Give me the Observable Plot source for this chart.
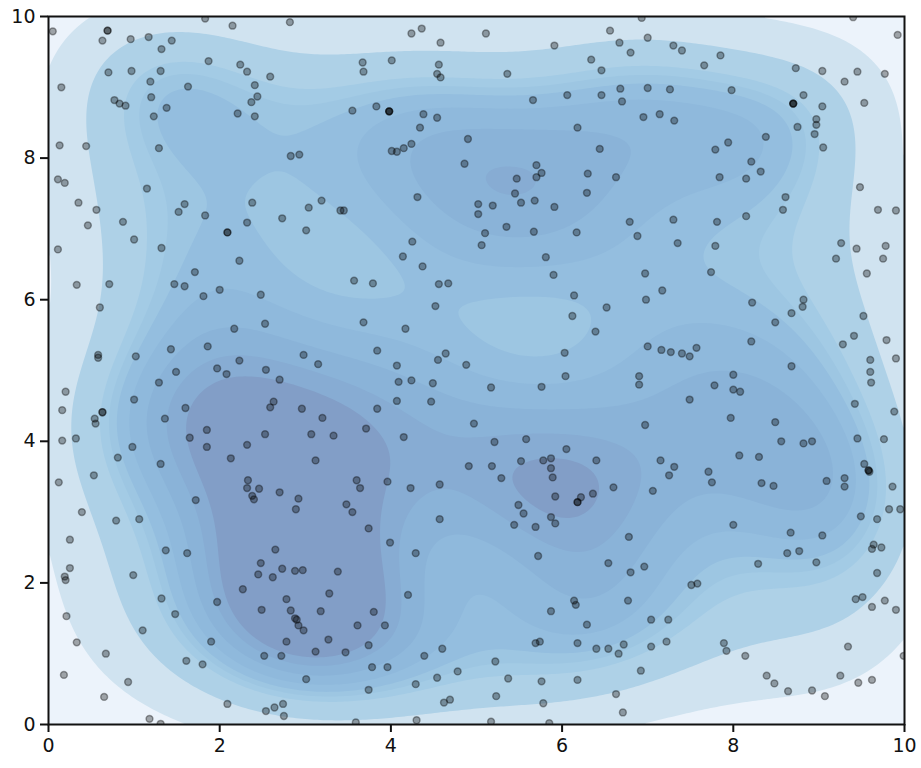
<!DOCTYPE html>
<html><head><meta charset="utf-8">
<style>html,body{margin:0;padding:0;background:#fff}svg{display:block}</style>
<script src="https://cdn.jsdelivr.net/npm/d3@7"></script>
<script src="https://cdn.jsdelivr.net/npm/@observablehq/plot@0.6"></script>
</head><body><div id="chart"></div>
<script>
const xs=[.05,.69,.69,.63,.96,1.17,1.44,1.32,1.83,2.15,2.82,.70,.97,1.31,1.19,1.87,2.24,2.32,2.59,2.41,2.44,2.37,2.21,2.41,.15,1.63,1.20,.77,.83,.90,1.38,1.23,.13,.44,1.29,2.83,2.93,.11,.19,1.15,.35,.56,1.59,1.52,1.83,2.38,3.04,3.19,2.73,2.32,3.41,.46,.87,2.09,2.09,3.01,1.0,.11,1.32,2.23,
4.24,4.36,4.58,5.11,5.91,6.56,6.67,6.80,3.67,3.68,4.01,4.56,4.54,4.58,5.36,6.34,6.46,6.68,6.46,6.70,6.06,5.66,3.55,3.83,3.98,3.98,3.98,4.38,4.54,4.34,6.18,4.90,6.44,4.24,4.15,4.07,4.01,4.86,5.70,5.76,5.70,5.47,6.30,6.63,5.45,6.29,5.68,5.52,5.02,5.19,5.91,5.02,4.31,3.45,6.79,5.35,5.67,6.17,5.10,5.06,4.25,4.14,5.81,
6.93,9.40,9.92,7.00,7.30,7.40,7.85,7.66,8.73,9.04,9.30,9.45,9.77,8.82,8.70,8.70,8.70,9.04,9.53,7.00,7.26,7.98,8.97,8.97,8.95,8.75,9.05,6.95,7.14,7.31,8.38,7.94,7.79,8.21,8.32,7.84,8.15,9.48,8.61,8.58,9.69,9.90,8.15,7.30,7.81,6.88,7.35,7.79,9.26,9.44,9.78,9.20,9.75,
.33,.71,1.71,1.47,1.59,2.00,1.81,2.48,.60,2.17,2.53,.58,.58,1.02,1.43,1.86,2.23,2.98,3.15,1.97,2.08,1.49,2.54,2.70,1.29,.20,.16,1.00,2.63,2.59,2.96,1.60,3.20,.63,.63,.54,.55,1.36,1.85,.16,.32,1.65,2.53,3.07,3.33,1.85,2.32,.98,.81,2.13,3.12,1.31,.12,.53,2.33,2.32,2.46,2.70,2.38,2.40,2.92,1.72,
4.37,5.90,3.57,3.79,4.56,4.67,6.14,6.52,6.12,4.52,3.68,4.17,6.39,6.03,3.84,4.64,4.55,4.07,4.88,6.04,4.09,4.24,4.49,5.17,5.76,4.07,4.47,3.84,4.97,3.71,4.15,5.21,5.58,6.05,5.52,5.78,5.87,6.40,4.91,5.18,5.87,5.29,5.89,3.60,3.96,3.64,4.23,4.57,6.60,5.92,6.22,6.36,6.18,
6.97,7.74,9.56,7.17,6.98,8.22,8.82,8.81,8.68,9.52,8.49,9.41,9.28,9.79,8.21,7.00,7.57,7.16,7.27,7.40,7.49,9.60,9.90,8.68,9.60,9.61,8.00,6.90,6.90,7.78,8.00,8.08,7.49,9.42,9.88,7.97,6.97,8.49,9.45,9.76,8.56,8.82,8.92,8.07,8.30,7.15,7.31,7.71,7.25,7.75,9.53,9.58,9.58,9.59,9.30,9.30,9.09,8.33,8.47,9.86,7.06,
2.89,.39,.79,1.06,.25,1.37,1.62,2.65,2.48,.25,.19,.20,.99,2.45,2.62,2.73,2.88,2.97,3.38,2.27,3.28,1.32,1.97,2.78,.21,1.48,2.49,2.83,3.18,2.88,2.90,2.92,2.98,1.10,.33,1.90,2.78,3.27,.67,3.12,2.52,2.72,1.61,1.80,.18,3.01,.93,.65,2.09,2.74,2.64,2.54,2.75,1.18,1.31,
3.48,3.55,3.74,3.99,4.29,4.57,4.20,3.80,3.61,3.93,3.74,3.47,3.78,3.96,3.74,4.39,4.60,4.78,4.54,4.29,5.22,5.37,5.76,6.18,4.69,4.62,5.23,5.78,6.63,6.71,3.59,4.30,5.17,5.85,5.49,5.55,5.44,5.69,5.87,5.92,6.18,5.72,6.54,6.78,6.80,6.77,6.14,6.16,5.87,6.29,5.69,5.74,6.18,6.40,6.54,6.72,6.66,
8.00,9.49,9.68,9.82,9.95,8.67,9.04,9.64,9.62,9.73,8.63,8.77,8.29,8.97,9.68,6.96,7.51,7.58,9.43,9.51,9.62,9.77,9.90,7.04,7.24,7.04,7.22,7.89,7.92,8.14,9.34,9.99,6.92,8.39,8.48,8.64,8.92,9.07,9.25,9.46,9.62];
const ys=[9.79,9.80,9.80,9.66,9.68,9.71,9.66,9.54,9.97,9.87,9.92,9.21,9.23,9.23,9.08,9.37,9.32,9.22,9.15,9.03,8.87,8.79,8.63,8.59,9.00,9.01,8.86,8.82,8.77,8.74,8.71,8.59,8.18,8.17,8.14,8.03,8.05,7.70,7.65,7.57,7.37,7.27,7.35,7.24,7.19,7.37,7.30,7.40,7.15,7.09,7.26,7.05,7.10,6.95,6.95,6.98,6.85,6.71,6.73,6.55,
9.76,9.83,9.63,9.76,9.59,9.80,9.63,9.49,9.35,9.22,9.38,9.32,9.19,9.14,9.19,9.39,9.24,8.98,8.89,8.80,8.89,8.82,8.67,8.73,8.66,8.66,8.66,8.62,8.57,8.43,8.43,8.27,8.13,8.20,8.14,8.09,8.10,7.92,7.90,7.79,7.73,7.71,7.78,7.73,7.50,7.51,7.40,7.37,7.35,7.33,7.31,7.21,7.45,7.26,7.10,7.03,6.96,6.95,6.94,6.77,6.82,6.61,6.60,
9.98,9.99,9.74,9.70,9.59,9.52,9.45,9.31,9.27,9.23,9.08,9.22,9.19,8.89,8.77,8.77,8.77,8.73,8.78,8.99,8.97,8.96,8.55,8.47,8.34,8.44,8.15,8.58,8.62,8.53,8.30,8.22,8.12,7.95,7.81,7.73,7.71,7.59,7.45,7.27,7.27,7.26,7.18,7.13,7.10,6.90,6.80,6.76,6.80,6.72,6.76,6.58,6.58,
6.21,6.22,6.39,6.22,6.19,6.14,6.05,6.07,5.89,5.59,5.66,5.22,5.18,5.20,5.30,5.34,5.14,5.22,5.09,5.03,4.95,4.98,5.01,4.87,4.83,4.70,4.44,4.59,4.56,4.48,4.46,4.47,4.33,4.41,4.41,4.32,4.25,4.32,4.16,4.01,4.04,4.05,4.10,4.10,4.08,3.92,3.95,3.92,3.77,3.76,3.73,3.68,3.42,3.52,3.45,3.34,3.33,3.28,3.23,3.18,3.19,3.17,
6.47,6.35,6.27,6.23,6.22,6.23,6.06,5.89,5.77,5.91,5.68,5.59,5.55,5.25,5.28,5.24,5.15,5.07,5.08,4.92,4.84,4.86,4.82,4.76,4.77,4.57,4.56,4.46,4.25,4.18,4.06,3.99,4.03,3.89,3.72,3.73,3.76,3.73,3.65,3.65,3.62,3.48,3.49,3.45,3.43,3.34,3.34,3.39,3.35,3.22,3.21,3.26,3.14,
6.37,6.39,6.37,6.13,6.00,5.96,6.00,5.90,5.81,5.77,5.68,5.49,5.37,5.43,5.41,5.34,5.32,5.29,5.26,5.24,5.20,5.15,5.17,5.06,4.98,4.83,4.94,4.92,4.80,4.79,4.73,4.70,4.59,4.53,4.42,4.33,4.23,4.27,4.04,4.03,4.00,3.97,4.00,3.80,3.78,3.73,3.64,3.57,3.52,3.42,3.68,3.59,3.59,3.57,3.48,3.36,3.44,3.41,3.37,3.36,3.30,
3.04,3.00,2.88,2.90,2.61,2.46,2.42,2.47,2.28,2.21,2.09,2.04,2.11,2.12,2.08,2.20,2.17,2.18,2.16,1.91,1.85,1.78,1.73,1.77,1.53,1.56,1.62,1.61,1.60,1.50,1.48,1.40,1.33,1.33,1.16,1.17,1.17,1.20,1.00,1.03,.97,.97,.90,.85,.70,.64,.60,.39,.29,.29,.24,.19,.12,.08,.01,
3.11,3.00,2.77,2.57,2.42,2.90,1.83,1.59,1.40,1.40,1.12,1.02,.81,.81,.49,.97,1.07,.75,.66,.57,.89,.65,.61,.63,.35,.31,.40,.30,.43,.17,.03,.06,.04,.02,3.10,2.98,2.82,2.79,2.93,2.84,3.14,2.38,2.28,2.65,2.15,1.75,1.75,1.69,1.60,1.41,1.15,1.17,1.15,1.07,1.07,1.13,1.00,
2.82,2.94,2.90,3.04,3.04,2.71,2.67,2.54,2.48,2.50,2.42,2.45,2.27,2.29,2.14,2.23,1.97,1.99,1.77,1.80,1.66,1.75,1.62,1.48,1.48,1.10,1.17,1.15,1.04,.97,1.10,.97,.76,.69,.58,.47,.48,.40,.69,.59,.63];
const levels=[2.32,3.36,4.0,4.18,4.33,4.55,4.82,5.08,5.28];
const bandColors=["#ecf3fb","#d0e3f0","#aed1e7","#a3cbe5","#9dc6e2","#94bedf","#8fb9dc","#8ab3d8","#87acd3","#829ec7"];
const bandwidthX=1.05, bandwidthY=1.05;
const n=Math.min(xs.length,ys.length);
function kde(x,y){let s=0;for(let i=0;i<n;i++){const dx=(x-xs[i])/bandwidthX,dy=(y-ys[i])/bandwidthY;s+=Math.exp(-.5*(dx*dx+dy*dy));}return s/(2*Math.PI*bandwidthX*bandwidthY);}
const points=d3.range(n).map(i=>({x:xs[i],y:ys[i]}));
const font="DejaVu Sans, sans-serif";
const plot=Plot.plot({width:921,height:768,marginLeft:48,marginRight:17,marginTop:16,marginBottom:44,
 style:{fontFamily:font,background:"#fff"},
 x:{domain:[0,10]},y:{domain:[0,10]},
 color:{type:"threshold",domain:levels,range:bandColors},
 marks:[
  Plot.frame({fill:bandColors[0],stroke:"none"}),
  Plot.contour({fill:kde,x1:0,x2:10,y1:0,y2:10,pixelSize:3,thresholds:levels,stroke:"none",clip:true}),
  Plot.dot(points,{x:"x",y:"y",r:3.4,fill:"#000",fillOpacity:.33,stroke:"#000",strokeOpacity:.36,strokeWidth:1.5,clip:true}),
  Plot.frame({stroke:"#111",strokeWidth:2}),
  Plot.axisX({ticks:[0,2,4,6,8,10],tickSize:8,tickPadding:6,fontSize:19,label:null,stroke:"#111",strokeWidth:2,color:"#111",strokeOpacity:1}),
  Plot.axisY({ticks:[0,2,4,6,8,10],tickSize:8,tickPadding:5,fontSize:19,label:null,stroke:"#111",strokeWidth:2,color:"#111",strokeOpacity:1})
 ]});
document.getElementById("chart").append(plot);
</script></body></html>
